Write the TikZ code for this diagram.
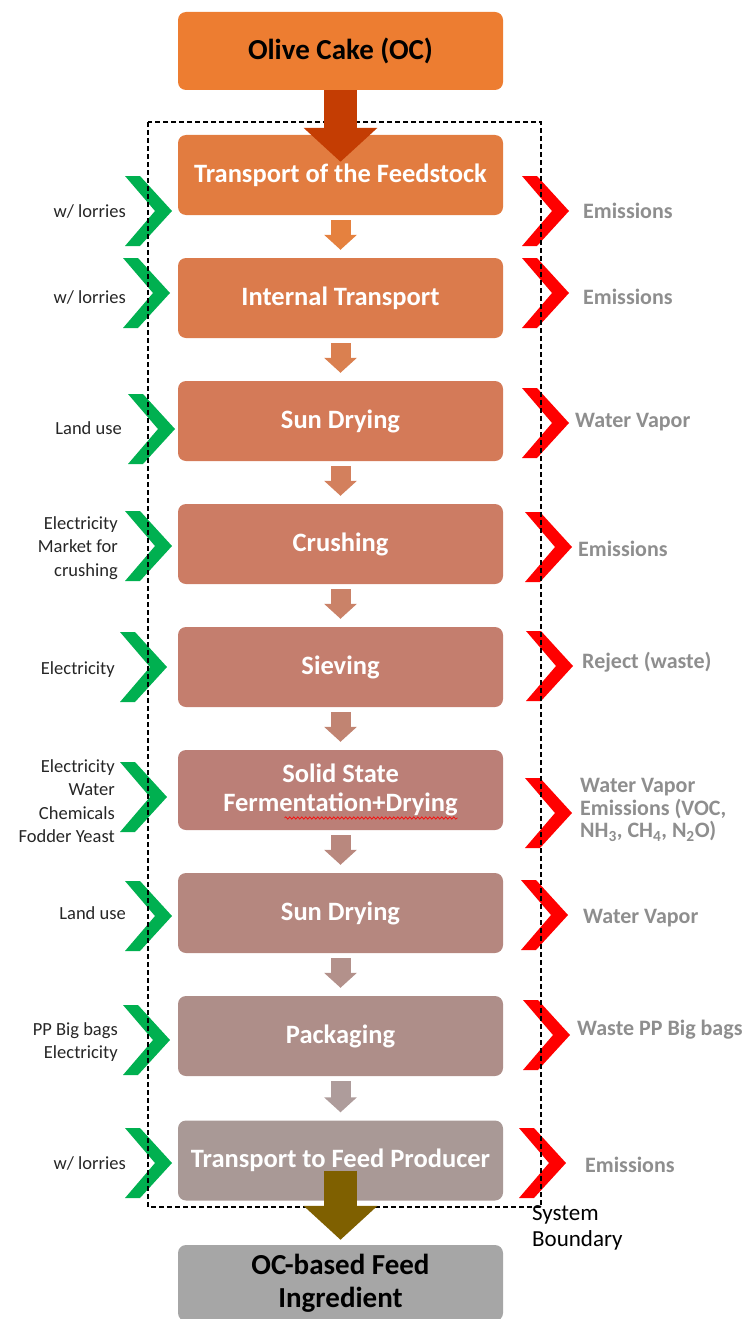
\documentclass[tikz,border=0pt]{standalone}
\usepackage{fontspec}
\setmainfont{Carlito}
\usetikzlibrary{arrows.meta,calc,decorations.pathmorphing}

\definecolor{ocorange}{HTML}{ED7D31}
\definecolor{cA}{HTML}{E27C40}
\definecolor{cB}{HTML}{DB7B4C}
\definecolor{cC}{HTML}{D47A58}
\definecolor{cD}{HTML}{CC7C64}
\definecolor{cE}{HTML}{C47E6E}
\definecolor{cF}{HTML}{BB7F77}
\definecolor{cG}{HTML}{B5877F}
\definecolor{cH}{HTML}{AE8E89}
\definecolor{cI}{HTML}{A99996}
\definecolor{aA}{HTML}{E5813F}
\definecolor{aB}{HTML}{DA8050}
\definecolor{aC}{HTML}{D3805D}
\definecolor{aD}{HTML}{CA8268}
\definecolor{aE}{HTML}{C18472}
\definecolor{aF}{HTML}{B9887E}
\definecolor{aG}{HTML}{B3918B}
\definecolor{aH}{HTML}{AE9C9B}
\definecolor{topflow}{HTML}{C43D03}
\definecolor{botflow}{HTML}{7F6000}
\definecolor{feedgray}{HTML}{A6A6A6}
\definecolor{ingreen}{HTML}{00B050}
\definecolor{outred}{HTML}{FF0000}
\definecolor{inkdark}{HTML}{262626}
\definecolor{outgray}{HTML}{8E8E8E}

\begin{document}
\begin{tikzpicture}[x=1pt,y=-1pt,
  stage/.style={rounded corners=8pt, minimum width=325pt, minimum height=80pt,
    inner sep=0pt, text=white, align=center,
    font=\bfseries\fontsize{26.5}{29}\selectfont},
  endbox/.style={stage, text=black, font=\bfseries\fontsize{29}{33}\selectfont},
  inlab/.style={anchor=east, align=right, text=inkdark, inner sep=0pt,
    font=\fontsize{18.5}{23.5}\selectfont},
  outlab/.style={anchor=west, align=left, text=outgray, inner sep=0pt,
    font=\bfseries\fontsize{22}{22.5}\selectfont},
  flow/.style={line width=20pt, -{Triangle[length=15pt,width=32pt]},
    shorten <=5pt, shorten >=8pt},
  bigflow/.style={line width=33pt, -{Triangle[length=34pt,width=72pt]}},
  chev/.pic={\fill (0,-35) -- (15,-35) -- (47,0) -- (15,35) -- (0,35) -- (30,0) -- cycle;},
]
\useasboundingbox (0,0) rectangle (746,1319);

% inputs (green) and outputs (red)
\begin{scope}[fill=ingreen]
  \pic at (125,211) {chev};
  \pic at (123,293) {chev};
  \pic at (128,429) {chev};
  \pic at (125,546) {chev};
  \pic at (120,667) {chev};
  \pic at (120,797) {chev};
  \pic at (125,916) {chev};
  \pic at (123,1040) {chev};
  \pic at (125,1163) {chev};
\end{scope}
\begin{scope}[fill=outred]
  \pic at (522,211) {chev};
  \pic at (522,293) {chev};
  \pic at (522,423) {chev};
  \pic at (525,547) {chev};
  \pic at (526,666) {chev};
  \pic at (525,813) {chev};
  \pic at (521,915) {chev};
  \pic at (523,1035) {chev};
  \pic at (519,1163) {chev};
\end{scope}

% system boundary
\draw[line width=1.3pt, dash pattern=on 5pt off 3pt] (148,122) rectangle (541,1207);
\node[anchor=north west, align=left, inner sep=0pt,
  font=\fontsize{23}{26}\selectfont] (sb) at (532,1205) {System\\Boundary};

% process chain
\node[endbox, fill=ocorange, minimum height=78pt] (oc) at (340.5,51) {Olive Cake (OC)};
\node[stage, fill=cA] (b1) at (340.5,175) {Transport of the Feedstock};
\node[stage, fill=cB] (b2) at (340.5,298) {Internal Transport};
\node[stage, fill=cC] (b3) at (340.5,421) {Sun Drying};
\node[stage, fill=cD] (b4) at (340.5,544) {Crushing};
\node[stage, fill=cE] (b5) at (340.5,667) {Sieving};
\node[stage, fill=cF] (b6) at (340.5,790) {Solid State\\Fermentation+Drying};
\node[stage, fill=cG] (b7) at (340.5,913) {Sun Drying};
\node[stage, fill=cH] (b8) at (340.5,1036) {Packaging};
\node[stage, fill=cI] (b9) at (340.5,1160.5) {Transport to Feed Producer};
\node[endbox, fill=feedgray, minimum height=76pt] (feed) at (340.5,1283) {OC-based Feed\\Ingredient};

\draw[red, line width=0.6pt, decorate,
  decoration={snake, amplitude=1.2pt, segment length=4pt}]
  ($(b6.center)+(-56,28)$) -- ($(b6.center)+(117,28)$);

% flows between stages
\draw[flow, aA] (b1.south) -- (b2.north);
\draw[flow, aB] (b2.south) -- (b3.north);
\draw[flow, aC] (b3.south) -- (b4.north);
\draw[flow, aD] (b4.south) -- (b5.north);
\draw[flow, aE] (b5.south) -- (b6.north);
\draw[flow, aF] (b6.south) -- (b7.north);
\draw[flow, aG] (b7.south) -- (b8.north);
\draw[flow, aH] (b8.south) -- (b9.north);
\draw[bigflow, topflow] (oc.south) -- ([yshift=-27pt]b1.north);
\draw[bigflow, botflow] ([yshift=30pt]b9.south) -- ([yshift=5pt]feed.north);

% input labels
\node[inlab] (l1) at (126,211) {w/ lorries};
\node[inlab] (l2) at (126,297) {w/ lorries};
\node[inlab] (l3) at (122,428) {Land use};
\node[inlab] (l4) at (118,548) {Electricity\\Market for\\crushing};
\node[inlab] (l5) at (115,670) {Electricity};
\node[inlab] (l6) at (115,801) {Electricity\\Water\\Chemicals\\Fodder Yeast};
\node[inlab] (l7) at (126,913) {Land use};
\node[inlab] (l8) at (118,1042) {PP Big bags\\Electricity};
\node[inlab] (l9) at (126,1163) {w/ lorries};

% output labels
\node[outlab] (r1) at (583,211) {Emissions};
\node[outlab] (r2) at (583,297) {Emissions};
\node[outlab] (r3) at (575,422) {Water Vapor};
\node[outlab] (r4) at (578,549) {Emissions};
\node[outlab] (r5) at (582,662) {Reject (waste)};
\node[outlab] (r6) at (580,810) {Water Vapor\\Emissions (VOC,\\NH\textsubscript{3}, CH\textsubscript{4}, N\textsubscript{2}O)};
\node[outlab] (r7) at (583,918) {Water Vapor};
\node[outlab] (r8) at (577,1030) {Waste PP Big bags};
\node[outlab] (r9) at (585,1165) {Emissions};
\end{tikzpicture}
\end{document}
